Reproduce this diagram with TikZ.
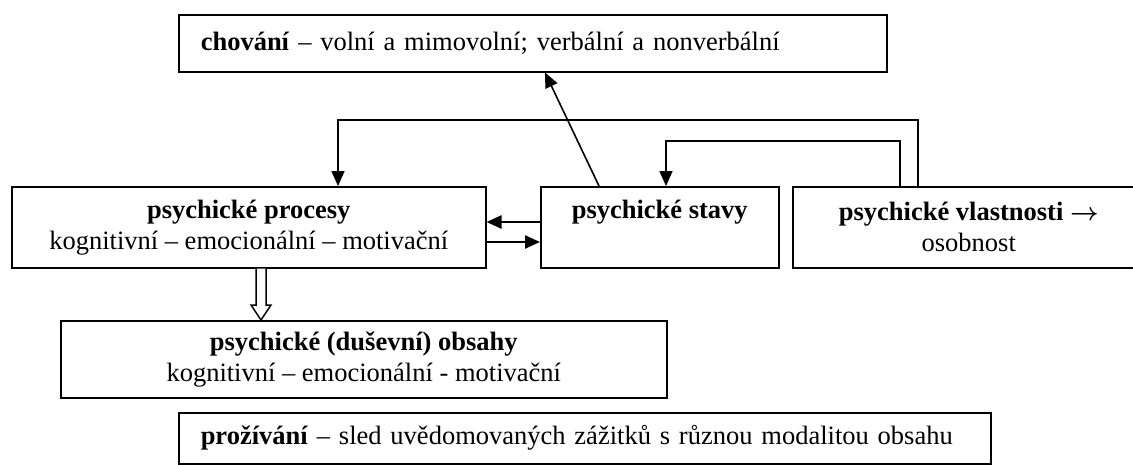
\documentclass[tikz,border=0pt]{standalone}
\usepackage{fontspec}
\setmainfont{Liberation Serif}
\usetikzlibrary{arrows.meta,calc}
\begin{document}
\begin{tikzpicture}[x=1pt,y=-1pt,
  box/.style={draw, line width=1.5pt, inner sep=0pt, align=center, anchor=north west,
    font=\fontsize{26.5}{31}\selectfont},
  leftbox/.style={box, align=left, inner xsep=22pt},
  link/.style={line width=1.6pt, -{Triangle[length=15pt,width=13pt]}},
  thick link/.style={link, line width=2.4pt},
  hollow/.style={draw, line width=1.5pt, fill=white, line join=miter}
]
\useasboundingbox (0,0) rectangle (1133,464);

% boxes
\node[leftbox, text width=664pt, minimum height=57pt] (beh) at (178,14)
  {\textbf{chování} – volní a mimovolní; verbální a nonverbální};
\node[box, minimum width=474pt, minimum height=81pt] (proc) at (11,186)
  {\textbf{psychické procesy}\\kognitivní – emocionální – motivační};
\node[box, minimum width=238pt, minimum height=81pt] (stav) at (540,186)
  {\textbf{psychické stavy}\\[-4pt]\strut};
\node[box, minimum width=352pt, minimum height=81pt] (vlas) at (792,186)
  {\textbf{psychické vlastnosti} {\boldmath$\rightarrow$}\\osobnost};
\node[box, minimum width=606pt, minimum height=77pt] (obs) at (60,320)
  {\textbf{psychické (duševní) obsahy}\\kognitivní – emocionální - motivační};
\node[leftbox, text width=768pt, minimum height=51pt] (proz) at (178,412)
  {\textbf{prožívání} – sled uvědomovaných zážitků s různou modalitou obsahu};

% feedback from personality traits
\coordinate (outerR) at (918,120);
\coordinate (outerL) at (338,120);
\draw[link] (vlas.north -| outerR) -- (outerR) -- (outerL) -- (proc.north -| outerL);
\coordinate (innerR) at (900,141);
\coordinate (innerL) at (666,141);
\draw[link] (vlas.north -| innerR) -- (innerR) -- (innerL) -- (stav.north -| innerL);

% states -> behaviour
\coordinate (diagS) at (599,0);
\coordinate (diagE) at (545,0);
\draw[link] (stav.north -| diagS) -- (beh.south -| diagE);

% processes <-> states
\coordinate (backY) at (0,222);
\coordinate (fwdY) at (0,242);
\draw[thick link] (stav.west |- backY) -- (proc.east |- backY);
\draw[thick link] (proc.east |- fwdY) -- (stav.west |- fwdY);

% hollow arrow: processes -> contents
\coordinate (hx) at (261,0);
\path (proc.south -| hx) coordinate (hs) (obs.north -| hx) coordinate (ht);
\draw[hollow] ($(hs)+(-5,0)$) -- ($(ht)+(-5,-15)$) -- ($(ht)+(-10,-15)$) -- (ht)
  -- ($(ht)+(10,-15)$) -- ($(ht)+(5,-15)$) -- ($(hs)+(5,0)$);
\end{tikzpicture}
\end{document}
